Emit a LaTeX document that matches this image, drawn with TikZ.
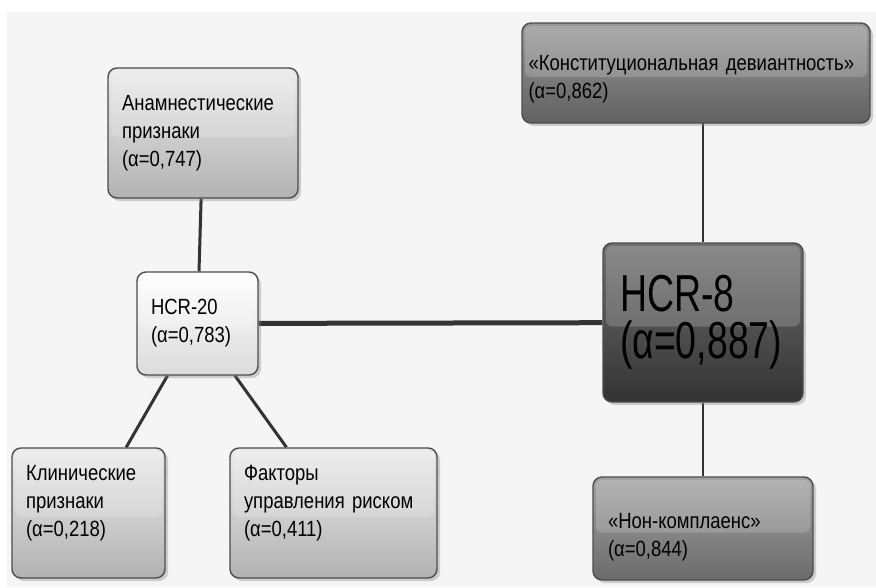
\documentclass[tikz,border=0pt]{standalone}
\usepackage{fontspec}
\setmainfont{Liberation Sans}[FakeStretch=0.84]
\newfontfamily\bigfont{Liberation Sans}[FakeStretch=0.72]
\usetikzlibrary{shadows,backgrounds}

\begin{document}
\begin{tikzpicture}[x=1pt,y=-1pt,
    box/.style={rectangle, rounded corners=9pt, draw=black!70, line width=1.4pt,
      align=left, inner xsep=14pt, inner ysep=2pt,
      font=\fontsize{22}{28}\selectfont,
      drop shadow={shadow xshift=3pt, shadow yshift=-3pt, opacity=0.35}},
    glossy/.style={path picture={\fill[white, opacity=0.18, rounded corners=6pt]
      ([xshift=3pt,yshift=-3pt]path picture bounding box.north west) rectangle
      ([xshift=-3pt,yshift=-4pt]path picture bounding box.east);}},
    lightbox/.style={box, glossy, top color=black!8, bottom color=black!30},
    whitebox/.style={box, glossy, top color=white, bottom color=black!14},
    midbox/.style={box, glossy, top color=black!40, bottom color=black!62},
    darkbox/.style={box, glossy, top color=black!56, bottom color=black!80},
    link/.style={draw=black!80, line width=3pt}]
    \useasboundingbox (0,0) rectangle (876,587);
    % boxes
    \node[lightbox, minimum width=190pt, text width=162pt, minimum height=130pt] (anamn) at (203,133)
      {Анамнестические\\признаки\\(α=0,747)};
    \node[whitebox, minimum width=121pt, text width=93pt, minimum height=103pt] (hcr20) at (197.5,323.5)
      {HCR-20\\(α=0,783)};
    \node[lightbox, minimum width=153pt, text width=125pt, minimum height=130pt, text depth=80pt] (klin) at (88.5,513)
      {Клинические\\признаки\\(α=0,218)};
    \node[lightbox, minimum width=207pt, text width=179pt, minimum height=130pt, text depth=80pt] (fakt) at (333.5,513)
      {Факторы\\управления риском\\(α=0,411)};
    \node[darkbox, minimum width=200pt, text width=166pt, inner xsep=17pt, minimum height=159pt,
      font=\bigfont\fontsize{52}{47}\selectfont] (hcr8) at (703,322.5)
      {HCR-8\\(α=0,887)};
    \node[midbox, minimum width=348pt, text width=335pt, inner xsep=6.5pt, minimum height=100pt,
      text height=28pt] (konst) at (696,73)
      {«Конституциональная девиантность»\\(α=0,862)};
    \node[midbox, minimum width=220pt, text width=190pt, inner xsep=15pt, minimum height=103pt,
      text height=32pt, top color=black!36, bottom color=black!58] (non) at (703,528.5)
      {«Нон-комплаенс»\\(α=0,844)};
    % links
    \begin{scope}[on background layer]
      \fill[white] (0,0) rectangle (876,587);
      \fill[black!4] (7,12) rectangle (876,587);
      \draw[link] (anamn) -- (hcr20);
      \draw[link] (hcr20) -- (klin);
      \draw[link] (hcr20) -- (fakt);
      \draw[link, line width=5pt] (hcr20) -- (hcr8);
      \draw[link, line width=2pt] (hcr8) -- (hcr8 |- konst);
      \draw[link, line width=2pt] (hcr8) -- (non);
    \end{scope}
\end{tikzpicture}
\end{document}
